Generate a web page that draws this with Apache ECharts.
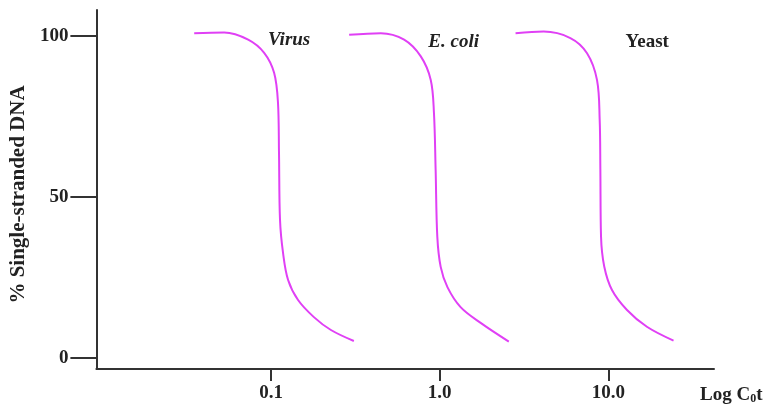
<!DOCTYPE html>
<html>
<head>
<meta charset="utf-8">
<script src="https://cdn.jsdelivr.net/npm/echarts@6/dist/echarts.min.js"></script>
<style>
  html, body { margin: 0; padding: 0; background: #fff; }
  #chart { width: 769px; height: 410px; }
</style>
</head>
<body>
<div id="chart"></div>
<script>
// x values are log10(C0t), y values are % single-stranded DNA
var virusX = [-1.456, -1.278, -1.136, -1.041, -0.982, -0.959, -0.953, -0.947, -0.929, -0.899, -0.840, -0.746, -0.645, -0.509]
var virusY = [100.8, 101.0, 98.8, 94.7, 88.5, 79.2, 63.7, 42.9, 32.6, 24.2, 18.0, 12.7, 8.7, 5.3]

var ecoliX = [-0.537, -0.349, -0.211, -0.112, -0.053, -0.034, -0.024, -0.014, 0.006, 0.046, 0.124, 0.243, 0.410]
var ecoliY = [100.3, 100.8, 98.8, 93.6, 86.3, 76.1, 58.4, 37.6, 28.3, 22.0, 15.8, 10.9, 5.1]

var yeastX = [0.450, 0.617, 0.775, 0.874, 0.933, 0.949, 0.953, 0.957, 0.976, 1.022, 1.111, 1.229, 1.387]
var yeastY = [100.8, 101.3, 99.3, 94.6, 86.3, 73.9, 58.4, 37.7, 28.4, 21.1, 14.9, 9.7, 5.4]

var xTicks = [-1, 0, 1]          // log10 of 0.1, 1.0, 10.0
var xTickLabels = ['0.1', '1.0', '10.0']
var yTicks = [0, 50, 100]

// curve names and where their labels sit
var curveNames = ['Virus', 'E. coli', 'Yeast']
var labelPos = [[-0.893, 98.8], [0.083, 98.1], [1.231, 98.1]]

function pairs(xs, ys) {
    var out = []
    for (var i = 0; i < xs.length; i++) out.push([xs[i], ys[i]])
    return out
}

var lineColor = '#e040f5'
var axisColor = '#333'
var textFont = '"Liberation Serif", "Times New Roman", serif'

var myChart = echarts.init(document.getElementById('chart'))

function curve(name, data, pos, italic) {
    return {
        name: name,
        type: 'line',
        data: data,
        smooth: 0.35,
        symbol: 'none',
        lineStyle: { color: lineColor, width: 2 },
        markPoint: {
            symbol: 'circle',
            symbolSize: 0,
            data: [{ coord: pos }],
            label: {
                show: true,
                position: 'inside',
                formatter: name,
                color: '#222',
                fontFamily: textFont,
                fontWeight: 'bold',
                fontStyle: italic ? 'italic' : 'normal',
                fontSize: 19
            }
        }
    }
}

var option = {
    animation: false,
    grid: { left: 95, right: 55, top: 10, bottom: 41 },
    xAxis: {
        type: 'value',
        min: -2.036,
        max: 1.627,
        name: '{a|Log C}{s|0}{a|t}',
        nameLocation: 'end',
        nameGap: -14,
        nameTextStyle: {
            align: 'left',
            padding: [52, 0, 0, 0],
            rich: {
                a: { fontFamily: textFont, fontWeight: 'bold', fontSize: 19, color: '#222' },
                s: { fontFamily: textFont, fontWeight: 'bold', fontSize: 12, color: '#222', padding: [8, 0, 0, 0] }
            }
        },
        splitLine: { show: false },
        axisLine: { onZero: false, lineStyle: { color: axisColor, width: 2 } },
        axisTick: { customValues: xTicks, length: 12, lineStyle: { color: axisColor, width: 2 } },
        axisLabel: {
            customValues: xTicks,
            margin: 15,
            color: '#222',
            fontFamily: textFont,
            fontWeight: 'bold',
            fontSize: 19,
            formatter: function (v) {
                var i = xTicks.indexOf(Math.round(v))
                return i >= 0 ? xTickLabels[i] : ''
            }
        }
    },
    yAxis: {
        type: 'value',
        min: -3.4,
        max: 108,
        name: '% Single-stranded DNA',
        nameLocation: 'middle',
        nameGap: 66,
        nameRotate: 90,
        nameTextStyle: {
            fontFamily: textFont,
            fontWeight: 'bold',
            fontSize: 21,
            color: '#222',
            padding: [0, 10, 0, 0]
        },
        splitLine: { show: false },
        axisLine: { onZero: false, lineStyle: { color: axisColor, width: 2 } },
        axisTick: { customValues: yTicks, length: 26, lineStyle: { color: axisColor, width: 2 } },
        axisLabel: {
            customValues: yTicks,
            margin: 28,
            color: '#222',
            fontFamily: textFont,
            fontWeight: 'bold',
            fontSize: 19
        }
    },
    series: [
        curve(curveNames[0], pairs(virusX, virusY), labelPos[0], true),
        curve(curveNames[1], pairs(ecoliX, ecoliY), labelPos[1], true),
        curve(curveNames[2], pairs(yeastX, yeastY), labelPos[2], false)
    ]
}

myChart.setOption(option)
</script>
</body>
</html>
